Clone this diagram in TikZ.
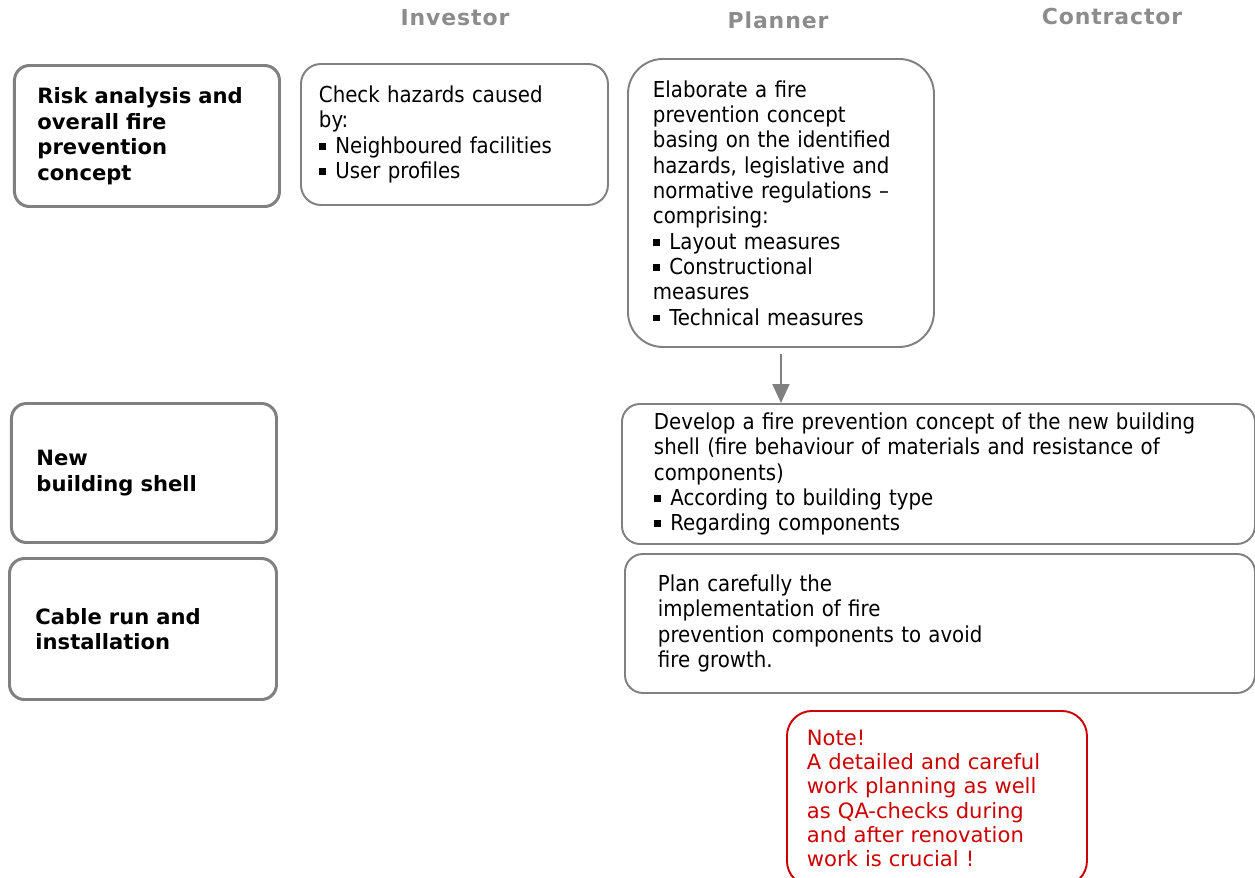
\documentclass[tikz,border=0pt]{standalone}
\usepackage{fontspec}
\setmainfont{DejaVu Sans Condensed}
\newfontfamily\labelfont{DejaVu Sans}
\newfontfamily\headfont[LetterSpace=4]{DejaVu Sans}
\usetikzlibrary{arrows.meta}
\definecolor{boxgray}{RGB}{128,128,128}
\definecolor{headgray}{RGB}{140,140,140}
\definecolor{notered}{RGB}{204,0,0}
\newcommand{\sqbullet}{\raisebox{0.3ex}{\rule{0.3em}{0.3em}}\hspace{0.45em}}

\begin{document}
\begin{tikzpicture}[
  head/.style={font=\headfont\bfseries\fontsize{12.5}{14}\selectfont, text=headgray},
  stage/.style={draw=boxgray, line width=1.7pt, rounded corners=0.3cm, anchor=north west, align=left, inner ysep=0pt, font=\labelfont\bfseries\fontsize{12}{14.5}\selectfont},
  task/.style={draw=boxgray, line width=1.1pt, anchor=north west, align=left, inner ysep=0pt, font=\fontsize{12.5}{14.4}\selectfont},
  note/.style={draw=notered, line width=1.1pt, rounded corners=0.5cm, anchor=north west, align=left, inner ysep=0pt, text=notered, font=\labelfont\fontsize{12}{13.8}\selectfont},
  flow/.style={draw=boxgray, line width=1.1pt, -{Triangle[length=0.38cm,width=0.34cm]}}
]
\useasboundingbox (0,0) rectangle (25.1,-17.54);

\node[head] (investor) at (9.1,-0.36) {Investor};
\node[head] (planner) at (15.56,-0.40) {Planner};
\node[head] (contractor) at (22.24,-0.32) {Contractor};

\node[stage, minimum width=5.3cm, minimum height=2.82cm, text width=4.38cm, inner xsep=0.46cm] (risk) at (0.26,-1.28) {Risk analysis and\\overall fire\\prevention\\concept};
\node[stage, minimum width=5.3cm, minimum height=2.78cm, text width=4.3cm, inner xsep=0.5cm] (shell) at (0.2,-8.04) {New\\building shell};
\node[stage, minimum width=5.34cm, minimum height=2.82cm, text width=4.3cm, inner xsep=0.52cm] (cable) at (0.16,-11.14) {Cable run and\\installation};

\node[task, rounded corners=0.4cm, minimum width=6.14cm, minimum height=2.82cm, text width=5.42cm, inner xsep=0.36cm] (hazards) at (6.0,-1.26) {Check hazards caused\\by:\\\sqbullet Neighboured facilities\\\sqbullet User profiles};
\node[task, rounded corners=0.7cm, minimum width=6.12cm, minimum height=5.76cm, text width=5.12cm, inner xsep=0.5cm] (elaborate) at (12.54,-1.16) {Elaborate a fire\\prevention concept\\basing on the identified\\hazards, legislative and\\normative regulations --\\comprising:\\\sqbullet Layout measures\\\sqbullet Constructional\\measures\\\sqbullet Technical measures};
\node[task, rounded corners=0.36cm, minimum width=12.66cm, minimum height=2.8cm, text width=11.38cm, inner xsep=0.64cm] (develop) at (12.42,-8.06) {Develop a fire prevention concept of the new building\\shell (fire behaviour of materials and resistance of\\components)\\\sqbullet According to building type\\\sqbullet Regarding components};
\node[task, rounded corners=0.36cm, minimum width=12.6cm, minimum height=2.78cm, text width=11.28cm, inner xsep=0.66cm] (implement) at (12.48,-11.06) {Plan carefully the\\implementation of fire\\prevention components to avoid\\fire growth.};

\node[note, minimum width=6.0cm, minimum height=3.5cm, text width=5.2cm, inner xsep=0.4cm] (warning) at (15.72,-14.2) {Note!\\A detailed and careful\\work planning as well\\as QA-checks during\\and after renovation\\work is crucial !};

\draw[flow] ([yshift=-0.12cm]elaborate.south) -- (elaborate.south |- develop.north);

\end{tikzpicture}
\end{document}
